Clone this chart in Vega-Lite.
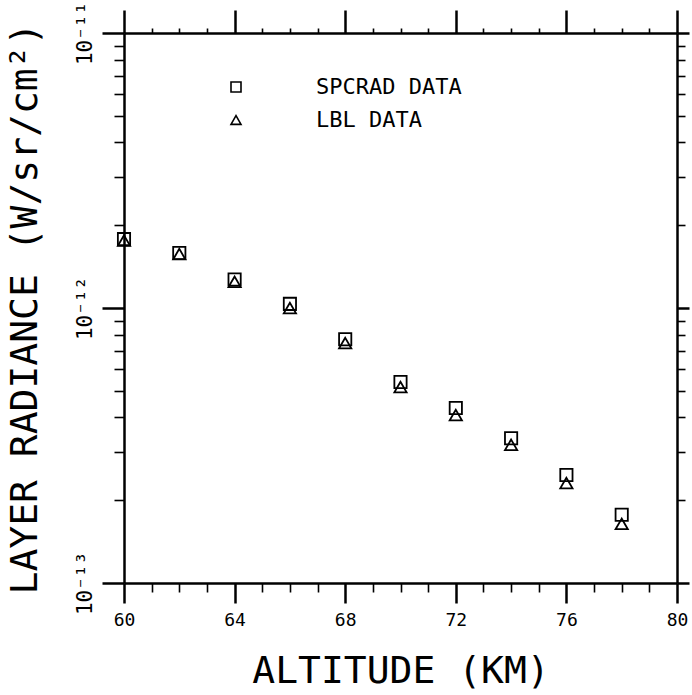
{
  "$schema": "https://vega.github.io/schema/vega-lite/v6.json",
  "width": 553,
  "height": 550,
  "autosize": "none",
  "padding": {"left": 124, "top": 33, "right": 15, "bottom": 112},
  "background": "white",
  "data": {
    "values": [
      {"alt": 60, "rad": 1.78e-12, "src": "SPCRAD DATA"},
      {"alt": 62, "rad": 1.585e-12, "src": "SPCRAD DATA"},
      {"alt": 64, "rad": 1.27e-12, "src": "SPCRAD DATA"},
      {"alt": 66, "rad": 1.035e-12, "src": "SPCRAD DATA"},
      {"alt": 68, "rad": 7.7e-13, "src": "SPCRAD DATA"},
      {"alt": 70, "rad": 5.38e-13, "src": "SPCRAD DATA"},
      {"alt": 72, "rad": 4.33e-13, "src": "SPCRAD DATA"},
      {"alt": 74, "rad": 3.36e-13, "src": "SPCRAD DATA"},
      {"alt": 76, "rad": 2.47e-13, "src": "SPCRAD DATA"},
      {"alt": 78, "rad": 1.77e-13, "src": "SPCRAD DATA"},
      {"alt": 60, "rad": 1.76e-12, "src": "LBL DATA"},
      {"alt": 62, "rad": 1.57e-12, "src": "LBL DATA"},
      {"alt": 64, "rad": 1.245e-12, "src": "LBL DATA"},
      {"alt": 66, "rad": 1.0e-12, "src": "LBL DATA"},
      {"alt": 68, "rad": 7.46e-13, "src": "LBL DATA"},
      {"alt": 70, "rad": 5.16e-13, "src": "LBL DATA"},
      {"alt": 72, "rad": 4.08e-13, "src": "LBL DATA"},
      {"alt": 74, "rad": 3.18e-13, "src": "LBL DATA"},
      {"alt": 76, "rad": 2.31e-13, "src": "LBL DATA"},
      {"alt": 78, "rad": 1.64e-13, "src": "LBL DATA"}
    ]
  },
  "config": {
    "view": {"stroke": null},
    "font": "DejaVu Sans Mono",
    "axis": {
      "domainColor": "black",
      "domainWidth": 2.5,
      "tickColor": "black",
      "labelColor": "black",
      "titleColor": "black",
      "grid": false,
      "labelFont": "DejaVu Sans Mono",
      "titleFont": "DejaVu Sans Mono",
      "titleFontWeight": "normal",
      "labelOverlap": false,
      "labelFlush": false,
      "labelBound": false
    }
  },
  "layer": [
    {
      "mark": {"type": "point", "filled": false, "strokeWidth": 1.8, "color": "black", "size": 150, "opacity": 1},
      "encoding": {
        "x": {
          "field": "alt", "type": "quantitative",
          "scale": {"domain": [60, 80], "nice": false, "zero": false},
          "axis": {
            "orient": "bottom",
            "values": [60,61,62,63,64,65,66,67,68,69,70,71,72,73,74,75,76,77,78,79,80],
            "labelExpr": "datum.value % 4 == 0 ? datum.label : ''",
            "tickSize": {"condition": {"test": "datum.value % 4 == 0", "value": 20}, "value": 9},
            "tickWidth": {"condition": {"test": "datum.value % 4 == 0", "value": 2.5}, "value": 1.6},
            "labelFontSize": 18,
            "labelPadding": 8,
            "title": "ALTITUDE (KM)",
            "titleFontSize": 38,
            "titlePadding": 23
          }
        },
        "y": {
          "field": "rad", "type": "quantitative",
          "scale": {"type": "log", "domain": [1e-13, 1e-11], "nice": false},
          "axis": {
            "orient": "left",
            "values": [1e-13,2e-13,3e-13,4e-13,5e-13,6e-13,7e-13,8e-13,9e-13,1e-12,2e-12,3e-12,4e-12,5e-12,6e-12,7e-12,8e-12,9e-12,1e-11],
            "labelExpr": "abs(log(datum.value)/LN10 - round(log(datum.value)/LN10)) < 0.01 ? (datum.value < 5e-13 ? '10⁻¹³' : datum.value < 5e-12 ? '10⁻¹²' : '10⁻¹¹') : ''",
            "tickSize": {"condition": {"test": "abs(log(datum.value)/LN10 - round(log(datum.value)/LN10)) < 0.01", "value": 22}, "value": 10},
            "tickWidth": {"condition": {"test": "abs(log(datum.value)/LN10 - round(log(datum.value)/LN10)) < 0.01", "value": 2.5}, "value": 1.6},
            "labelAngle": -90,
            "labelAlign": "center",
            "labelBaseline": "bottom",
            "labelFontSize": 21,
            "labelPadding": 7,
            "title": "LAYER RADIANCE (W/sr/cm²)",
            "titleFontSize": 38,
            "titlePadding": 30
          }
        },
        "shape": {
          "field": "src", "type": "nominal",
          "scale": {"domain": ["SPCRAD DATA", "LBL DATA"], "range": ["square", "triangle-up"]},
          "legend": {
            "orient": "none",
            "legendX": 101,
            "legendY": 43,
            "title": null,
            "padding": 0,
            "labelFont": "DejaVu Sans Mono",
            "labelFontSize": 22,
            "labelColor": "black",
            "labelOffset": 69,
            "rowPadding": 11,
            "symbolSize": 100,
            "symbolStrokeWidth": 1.6,
            "symbolStrokeColor": "black",
            "symbolFillColor": "transparent"
          }
        }
      }
    },
    {
      "mark": {"type": "point", "opacity": 0},
      "encoding": {
        "x": {
          "field": "alt", "type": "quantitative",
          "scale": {"domain": [60, 80], "nice": false, "zero": false},
          "axis": {
            "orient": "top",
            "values": [60,61,62,63,64,65,66,67,68,69,70,71,72,73,74,75,76,77,78,79,80],
            "labels": false,
            "title": null,
            "tickSize": {"condition": {"test": "datum.value % 4 == 0", "value": 23}, "value": 5},
            "tickWidth": {"condition": {"test": "datum.value % 4 == 0", "value": 2.5}, "value": 1.6}
          }
        },
        "y": {
          "field": "rad", "type": "quantitative",
          "scale": {"type": "log", "domain": [1e-13, 1e-11], "nice": false},
          "axis": {
            "orient": "right",
            "values": [1e-13,2e-13,3e-13,4e-13,5e-13,6e-13,7e-13,8e-13,9e-13,1e-12,2e-12,3e-12,4e-12,5e-12,6e-12,7e-12,8e-12,9e-12,1e-11],
            "labels": false,
            "title": null,
            "tickSize": {"condition": {"test": "abs(log(datum.value)/LN10 - round(log(datum.value)/LN10)) < 0.01", "value": 12}, "value": 8},
            "tickWidth": {"condition": {"test": "abs(log(datum.value)/LN10 - round(log(datum.value)/LN10)) < 0.01", "value": 2.5}, "value": 1.6}
          }
        }
      }
    }
  ],
  "resolve": {"axis": {"x": "independent", "y": "independent"}}
}
